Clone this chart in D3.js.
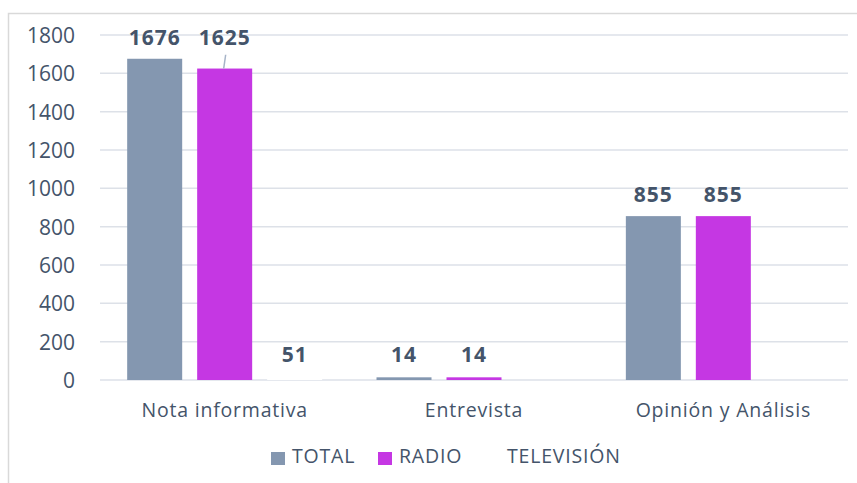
<!DOCTYPE html>
<html>
<head>
<meta charset="utf-8">
<script src="https://cdn.jsdelivr.net/npm/d3@7"></script>
<style>
  body { margin: 0; background: #fff; }
  text { font-family: "Open Sans", "Noto Sans", sans-serif; fill: #44546A; }
</style>
</head>
<body>
<div id="chart"></div>
<script>
var categories = ["Nota informativa", "Entrevista", "Opinión y Análisis"];
var seriesNames = ["TOTAL", "RADIO", "TELEVISIÓN"];
var seriesColors = ["#8497B0", "#C537E3", "#FFFFFF"];
var totalValues = [1676, 14, 855];
var radioValues = [1625, 14, 855];
var tvValues = [51, 0, 0];
var yTicks = [0, 200, 400, 600, 800, 1000, 1200, 1400, 1600, 1800];

var width = 857, height = 483;
var margin = { left: 100, right: 9, top: 35, bottom: 103 };

var svg = d3.select("#chart").append("svg")
    .attr("width", width)
    .attr("height", height);

// chart frame
svg.append("rect")
    .attr("x", 8.5).attr("y", 13.5)
    .attr("width", width + 10).attr("height", height + 10)
    .attr("fill", "none")
    .attr("stroke", "#D9D9D9")
    .attr("stroke-width", 1.5);

var x0 = d3.scaleBand()
    .domain(categories)
    .range([margin.left, width - margin.right])
    .paddingInner(0.218)
    .paddingOuter(0.109);

var x1 = d3.scaleBand()
    .domain(seriesNames)
    .range([0, x0.bandwidth()])
    .paddingInner(0.214);

var y = d3.scaleLinear()
    .domain([0, 1800])
    .range([height - margin.bottom, margin.top]);

// gridlines
svg.append("g")
    .selectAll("line")
    .data(yTicks)
    .enter()
    .append("line")
    .attr("x1", margin.left)
    .attr("x2", width - margin.right)
    .attr("y1", function (d) { return y(d); })
    .attr("y2", function (d) { return y(d); })
    .attr("stroke", "#DDE1E8")
    .attr("stroke-width", 1.5);

// y axis labels
var yAxis = d3.axisLeft(y).tickValues(yTicks).tickFormat(d3.format("d")).tickSize(0).tickPadding(0);
var yg = svg.append("g")
    .attr("transform", "translate(75,0)")
    .call(yAxis);
yg.select(".domain").remove();
yg.selectAll("text")
    .attr("font-size", "21px")
    .attr("font-family", "\"Open Sans\", sans-serif")
    .attr("fill", "#44546A")
    .attr("dy", "0.35em");

// category labels
var xAxis = d3.axisBottom(x0).tickSize(0).tickPadding(0);
var xg = svg.append("g")
    .attr("transform", "translate(0," + (y(0) + 30) + ")")
    .call(xAxis);
xg.select(".domain").remove();
xg.selectAll("text")
    .attr("font-size", "19.5px")
    .attr("letter-spacing", "0.8px")
    .attr("font-family", "\"Open Sans\", sans-serif")
    .attr("fill", "#44546A")
    .attr("dy", "0.35em");

var seriesValues = [totalValues, radioValues, tvValues];
var table = [];
categories.forEach(function (c, ci) {
    seriesNames.forEach(function (s, si) {
        table.push({ cat: c, ci: ci, series: s, si: si, value: seriesValues[si][ci] });
    });
});

svg.append("g")
    .selectAll("rect")
    .data(table)
    .enter()
    .append("rect")
    .attr("x", function (d) { return x0(d.cat) + x1(d.series); })
    .attr("y", function (d) { return y(d.value); })
    .attr("width", x1.bandwidth())
    .attr("height", function (d) { return y(0) - y(d.value); })
    .attr("fill", function (d) { return seriesColors[d.si]; });

// data labels
var labelled = table.filter(function (d) { return d.value > 0; });
function barTop(d) {
    // short bars share one label row
    return d.value < 60 ? y(20) : y(d.value);
}
function labelY(d) {
    var top = barTop(d);
    // RADIO label lifted next to TOTAL when the bars are close
    if (d.si == 1) {
        var tot = totalValues[d.ci];
        if (tot != d.value && Math.abs(tot - d.value) < 100) {
            top = y(tot);
        }
    }
    return top - 14;
}
var labels = svg.append("g");
labels.selectAll("text")
    .data(labelled)
    .enter()
    .append("text")
    .attr("x", function (d) { return x0(d.cat) + x1(d.series) + x1.bandwidth() / 2; })
    .attr("y", function (d) { return labelY(d); })
    .attr("text-anchor", "middle")
    .attr("font-size", "21px")
    .attr("font-weight", "bold")
    .attr("letter-spacing", "1px")
    .text(function (d) { return d.value; });

// leader lines for lifted labels
labels.selectAll("line")
    .data(labelled.filter(function (d) {
        return labelY(d) < barTop(d) - 14;
    }))
    .enter()
    .append("line")
    .attr("x1", function (d) { return x0(d.cat) + x1(d.series) + x1.bandwidth() / 2 + 1; })
    .attr("x2", function (d) { return x0(d.cat) + x1(d.series) + x1.bandwidth() / 2 - 1; })
    .attr("y1", function (d) { return labelY(d) + 10; })
    .attr("y2", function (d) { return y(d.value); })
    .attr("stroke", "#A6B4C8")
    .attr("stroke-width", 1.5);

// legend
var legendX = [271, 378, 486];
var legend = svg.append("g")
    .selectAll("g")
    .data(seriesNames)
    .enter()
    .append("g")
    .attr("transform", function (d, i) { return "translate(" + legendX[i] + ",452)"; });
legend.append("rect")
    .attr("width", 14).attr("height", 13)
    .attr("fill", function (d, i) { return seriesColors[i]; });
legend.append("text")
    .attr("x", 21).attr("y", 4)
    .attr("dy", "0.35em")
    .attr("font-size", "19.5px")
    .attr("letter-spacing", "0.8px")
    .text(function (d) { return d; });
</script>
</body>
</html>
